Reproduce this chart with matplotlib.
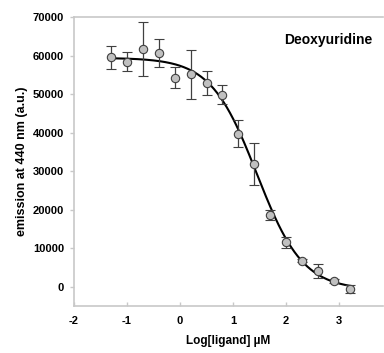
import numpy as np
import matplotlib
matplotlib.use("Agg")
import matplotlib.pyplot as plt

plt.rcParams['font.family'] = ['Liberation Sans', 'DejaVu Sans']

log_ligand = [-1.3, -1.0, -0.7, -0.4, -0.1, 0.2, 0.5, 0.8, 1.1, 1.4,
              1.7, 2.0, 2.3, 2.6, 2.9, 3.2]
emission = [59600, 58400, 61600, 60700, 54200, 55100, 52900, 49800, 39700, 31800,
            18500, 11500, 6800, 4100, 1500, -600]
emission_err = [3000, 2400, 7000, 3700, 2700, 6400, 3100, 2500, 3500, 5400,
                1300, 1400, 400, 1850, 500, 1100]

# fitted 4-parameter logistic curve parameters
fit_top = 59400
fit_bottom = -800
fit_log_ic50 = 1.45
fit_hill = 1.0

x_ticks = [-2, -1, 0, 1, 2, 3]
y_ticks = [0, 10000, 20000, 30000, 40000, 50000, 60000, 70000]

fig = plt.figure(figsize=(3.84, 3.53), dpi=100)
ax = fig.add_axes([74/384, 1-306/353, (383-74)/384, (306-17)/353])

xc = np.linspace(log_ligand[0], log_ligand[-1], 300)
yc = fit_bottom + (fit_top - fit_bottom) / (1 + 10 ** ((xc - fit_log_ic50) * fit_hill))
ax.plot(xc, yc, color='black', lw=1.5, zorder=2)

ax.errorbar(log_ligand, emission, yerr=emission_err, fmt='o', ms=6,
            mfc='#c0c0c0', mec='#404040', mew=0.8, ecolor='#404040',
            elinewidth=0.9, capsize=3.3, capthick=0.9, zorder=3)

ax.set_xlim(-2, 3.83)
ax.set_ylim(-5000, 70000)
ax.set_xticks(x_ticks)
ax.set_yticks(y_ticks)
ax.set_xticklabels([str(t) for t in x_ticks], fontsize=8, fontweight='bold')
ax.set_yticklabels([str(t) for t in y_ticks], fontsize=8, fontweight='bold')
ax.tick_params(axis='x', direction='in', length=3, color='#c8c8c8', width=1, pad=7.5)
ax.tick_params(axis='y', direction='out', length=2.9, color='#c8c8c8', width=1, pad=4.3)

for s in ['left', 'bottom', 'top']:
    ax.spines[s].set_color('#c8c8c8')
    ax.spines[s].set_linewidth(1.2)
ax.spines['right'].set_visible(False)

ax.set_xlabel('Log[ligand] µM', fontsize=8.5, fontweight='bold', labelpad=6.5)
ax.set_ylabel('emission at 440 nm (a.u.)', fontsize=9, fontweight='bold', labelpad=3.5)

ax.text(0.964, 0.905, 'Deoxyuridine', transform=ax.transAxes, ha='right', va='baseline',
        fontsize=10, fontweight='bold')

fig.savefig('out.png', dpi=100)
